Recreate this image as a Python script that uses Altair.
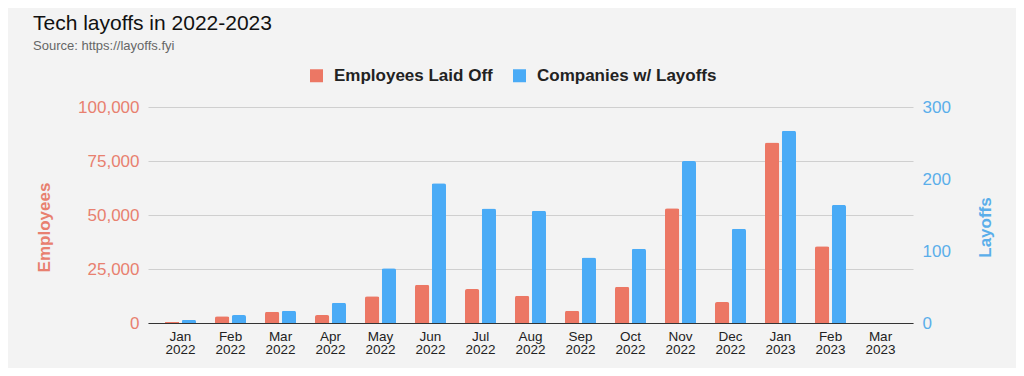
import altair as alt
import pandas as pd

months = ["Jan 2022", "Feb 2022", "Mar 2022", "Apr 2022", "May 2022", "Jun 2022",
          "Jul 2022", "Aug 2022", "Sep 2022", "Oct 2022", "Nov 2022", "Dec 2022",
          "Jan 2023", "Feb 2023", "Mar 2023"]
employees_laid_off = [510, 3100, 5200, 3700, 12400, 17700, 15700, 12600, 5700, 16800,
                      53100, 9700, 83600, 35500, None]
companies_with_layoffs = [4, 11, 17, 28, 76, 194, 159, 156, 91, 103, 225, 131, 267, 164, None]
series_names = ["Employees Laid Off", "Companies w/ Layoffs"]
series_colors = ["#ec7764", "#4aabf6"]
employee_ticks = [0, 25000, 50000, 75000, 100000]
layoff_ticks = [0, 100, 200, 300]

rows = []
for m, e, c in zip(months, employees_laid_off, companies_with_layoffs):
    rows.append({"month": m, "series": series_names[0], "value": e})
    rows.append({"month": m, "series": series_names[1], "value": c})
df = pd.DataFrame(rows)

FONT = "Liberation Sans"
LEFT_COLOR = "#e8806f"
RIGHT_COLOR = "#5aaeea"

x_enc = alt.X(
    "month:N",
    sort=months,
    scale=alt.Scale(domain=months, paddingInner=0.38, paddingOuter=0.34),
    axis=alt.Axis(
        title=None,
        labelExpr="split(datum.label, ' ')",
        labelAngle=0,
        labelFontSize=13.5,
        labelLineHeight=13,
        labelColor="#222222",
        labelPadding=6,
        ticks=False,
        domain=True,
        domainColor="#333333",
        domainWidth=1.2,
        grid=False,
    ),
)
xoff_enc = alt.XOffset("series:N", scale=alt.Scale(domain=series_names, paddingInner=0.15))
color_enc = alt.Color(
    "series:N",
    scale=alt.Scale(domain=series_names, range=series_colors),
    legend=alt.Legend(
        title=None,
        orient="none",
        direction="horizontal",
        legendX=160,
        legendY=-40,
        symbolType="square",
        symbolSize=169,
        symbolStrokeWidth=0,
        labelFontSize=17,
        labelFontWeight="bold",
        labelColor="#222222",
        labelOffset=9,
        labelLimit=400,
        columnPadding=18,
    ),
)

bar_kw = dict(cornerRadiusTopLeft=2, cornerRadiusTopRight=2)

emp = alt.Chart(df).transform_filter(
    alt.datum.series == series_names[0]
).mark_bar(**bar_kw).encode(
    x=x_enc,
    xOffset=xoff_enc,
    color=color_enc,
    y=alt.Y(
        "value:Q",
        scale=alt.Scale(domain=[0, 100000], nice=False),
        axis=alt.Axis(
            orient="left",
            values=employee_ticks,
            format=",.0f",
            labelFontSize=17,
            labelColor=LEFT_COLOR,
            labelPadding=9,
            ticks=False,
            domain=False,
            grid=True,
            gridColor="#cfcfcf",
            gridWidth=1,
            title="Employees",
            titleFontSize=17,
            titleFontWeight="bold",
            titleColor=LEFT_COLOR,
            titleAngle=270,
            titleX=-104,
            titleY=120,
            titleAlign="center",
            titleBaseline="middle",
        ),
    ),
)

comp = alt.Chart(df).transform_filter(
    alt.datum.series == series_names[1]
).mark_bar(**bar_kw).encode(
    x=x_enc,
    xOffset=xoff_enc,
    color=color_enc,
    y=alt.Y(
        "value:Q",
        scale=alt.Scale(domain=[0, 300], nice=False),
        axis=alt.Axis(
            orient="right",
            values=layoff_ticks,
            format=".0f",
            labelFontSize=17,
            labelColor=RIGHT_COLOR,
            labelPadding=9,
            ticks=False,
            domain=False,
            grid=False,
            title="Layoffs",
            titleFontSize=17,
            titleFontWeight="bold",
            titleColor=RIGHT_COLOR,
            titleAngle=270,
            titleX=72,
            titleY=120,
            titleAlign="center",
            titleBaseline="middle",
        ),
    ),
)

chart = alt.layer(emp, comp).resolve_scale(y="independent").properties(
    width=765,
    height=216,
    autosize=alt.AutoSizeParams(type="none"),
    padding={"left": 140, "top": 99, "right": 103, "bottom": 45},
    background="#f3f3f3",
    title=alt.Title(
        text="Tech layoffs in 2022-2023",
        subtitle="Source: https://layoffs.fyi",
        anchor="start",
        frame="bounds",
        dx=-2,
        fontSize=21,
        fontWeight="normal",
        color="#111111",
        subtitleFontSize=13,
        subtitleColor="#666666",
        subtitlePadding=6,
        offset=14,
    ),
).configure(font=FONT).configure_view(stroke=None)

chart.save("out.html", embed_options={"renderer": "svg", "actions": False})
